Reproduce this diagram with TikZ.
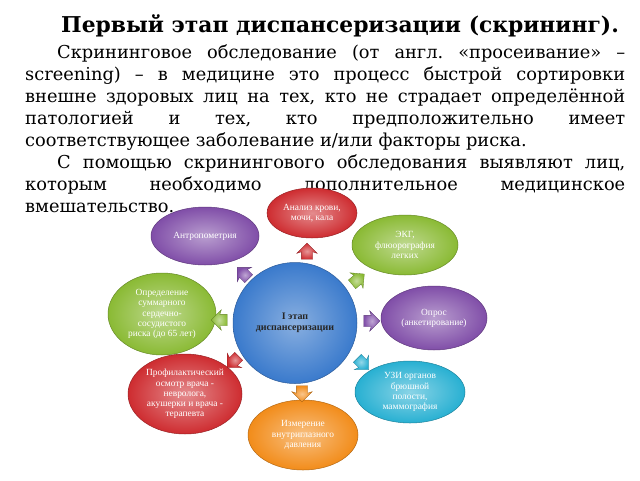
\documentclass[tikz,border=0pt]{standalone}
\usepackage{fontspec}
\setmainfont{DejaVu Serif}
\newfontfamily\lserif{Liberation Serif}
\usetikzlibrary{shapes.geometric,shapes.arrows}
\definecolor{cblue}{RGB}{58,122,204}
\definecolor{cred}{RGB}{206,44,48}
\definecolor{cpurple}{RGB}{128,78,168}
\definecolor{cgreen}{RGB}{138,186,52}
\definecolor{ccyan}{RGB}{40,176,210}
\definecolor{corange}{RGB}{242,140,26}
\begin{document}
\begin{tikzpicture}[x=1pt,y=-1pt,
  bub/.style={ellipse, draw=#1!75!black, line width=0.5pt,
    inner color=#1!55!white, outer color=#1, text=white,
    font=\lserif\fontsize{9.4}{10.2}\selectfont, align=center, inner sep=0pt},
  barrow/.style={single arrow, draw=#1!70!black, line width=0.3pt,
    inner color=#1!50!white, outer color=#1,
    minimum height=16pt, single arrow head extend=4.5pt,
    single arrow head indent=1.5pt, inner sep=0pt},
  bodytext/.style={anchor=north west, text width=600pt, align=justify, inner sep=0pt,
    font=\fontsize{17.8}{22.1}\selectfont}
]
\useasboundingbox (0,0) rectangle (640,480);
\fill[white] (0,0) rectangle (640,480);

\node[font=\bfseries\fontsize{21.8}{24}\selectfont, inner sep=0pt] (title) at (340,26)
  {Первый этап диспансеризации (скрининг).};

\node[bodytext] (body) at (25,44) {\sloppy\frenchspacing
\hspace*{32pt}Скрининговое обследование (от англ. «просеивание» –\linebreak
screening) – в медицине это процесс быстрой сортировки\linebreak
внешне здоровых лиц на тех, кто не страдает определённой\linebreak
патологией и тех, кто предположительно имеет\linebreak
соответствующее заболевание и/или факторы риска.\par
\hspace*{32pt}С помощью скринингового обследования выявляют лиц,\linebreak
которым необходимо дополнительное медицинское\linebreak
вмешательство.\par};

% centre
\node[ellipse, draw=cblue!75!black, line width=0.5pt, inner color=cblue!60!white,
  outer color=cblue, minimum width=124pt, minimum height=121pt, inner sep=0pt,
  align=center, font=\lserif\bfseries\fontsize{10}{11.5}\selectfont, text=black!85]
  (c) at (295,323) {I этап\\диспансеризации};

\node[bub=cred, minimum width=90pt, minimum height=50pt] (blood) at (312,213)
  {Анализ крови,\\мочи, кала};
\node[bub=cpurple, minimum width=108pt, minimum height=58pt] (anthro) at (205,236)
  {Антропометрия};
\node[bub=cgreen, minimum width=106pt, minimum height=60pt] (ecg) at (405,245)
  {ЭКГ,\\флюорография\\легких};
\node[bub=cgreen, minimum width=108pt, minimum height=82pt] (risk) at (162,314)
  {Определение\\суммарного\\сердечно-\\сосудистого\\риска (до 65 лет)};
\node[bub=cpurple, minimum width=106pt, minimum height=64pt] (survey) at (434,318)
  {Опрос\\(анкетирование)};
\node[bub=cred, minimum width=114pt, minimum height=80pt] (exam) at (185,394)
  {Профилактический\\осмотр врача -\\невролога,\\акушерки и врача -\\терапевта};
\node[bub=ccyan, minimum width=110pt, minimum height=62pt] (uzi) at (410,392)
  {УЗИ органов\\брюшной\\полости,\\маммография};
\node[bub=corange, minimum width=110pt, minimum height=70pt] (eye) at (303,435)
  {Измерение\\внутриглазного\\давления};

% block arrows
\newcommand{\shaftbox}{\phantom{\rule{6pt}{11pt}}}
\node[barrow=cred, rotate=90] (a1) at (307,254) {\shaftbox};
\node[barrow=cpurple, rotate=135] (a2) at (245,275) {\shaftbox};
\node[barrow=cgreen, rotate=40] (a3) at (356,281) {\shaftbox};
\node[barrow=cpurple, rotate=0] (a4) at (369,321) {\shaftbox};
\node[barrow=ccyan, rotate=-45] (a5) at (361,362) {\shaftbox};
\node[barrow=corange, rotate=-90] (a6) at (302,391) {\shaftbox};
\node[barrow=cred, rotate=-135] (a7) at (235,360) {\shaftbox};
\node[barrow=cgreen, rotate=180] (a8) at (222,320) {\shaftbox};
\end{tikzpicture}
\end{document}
